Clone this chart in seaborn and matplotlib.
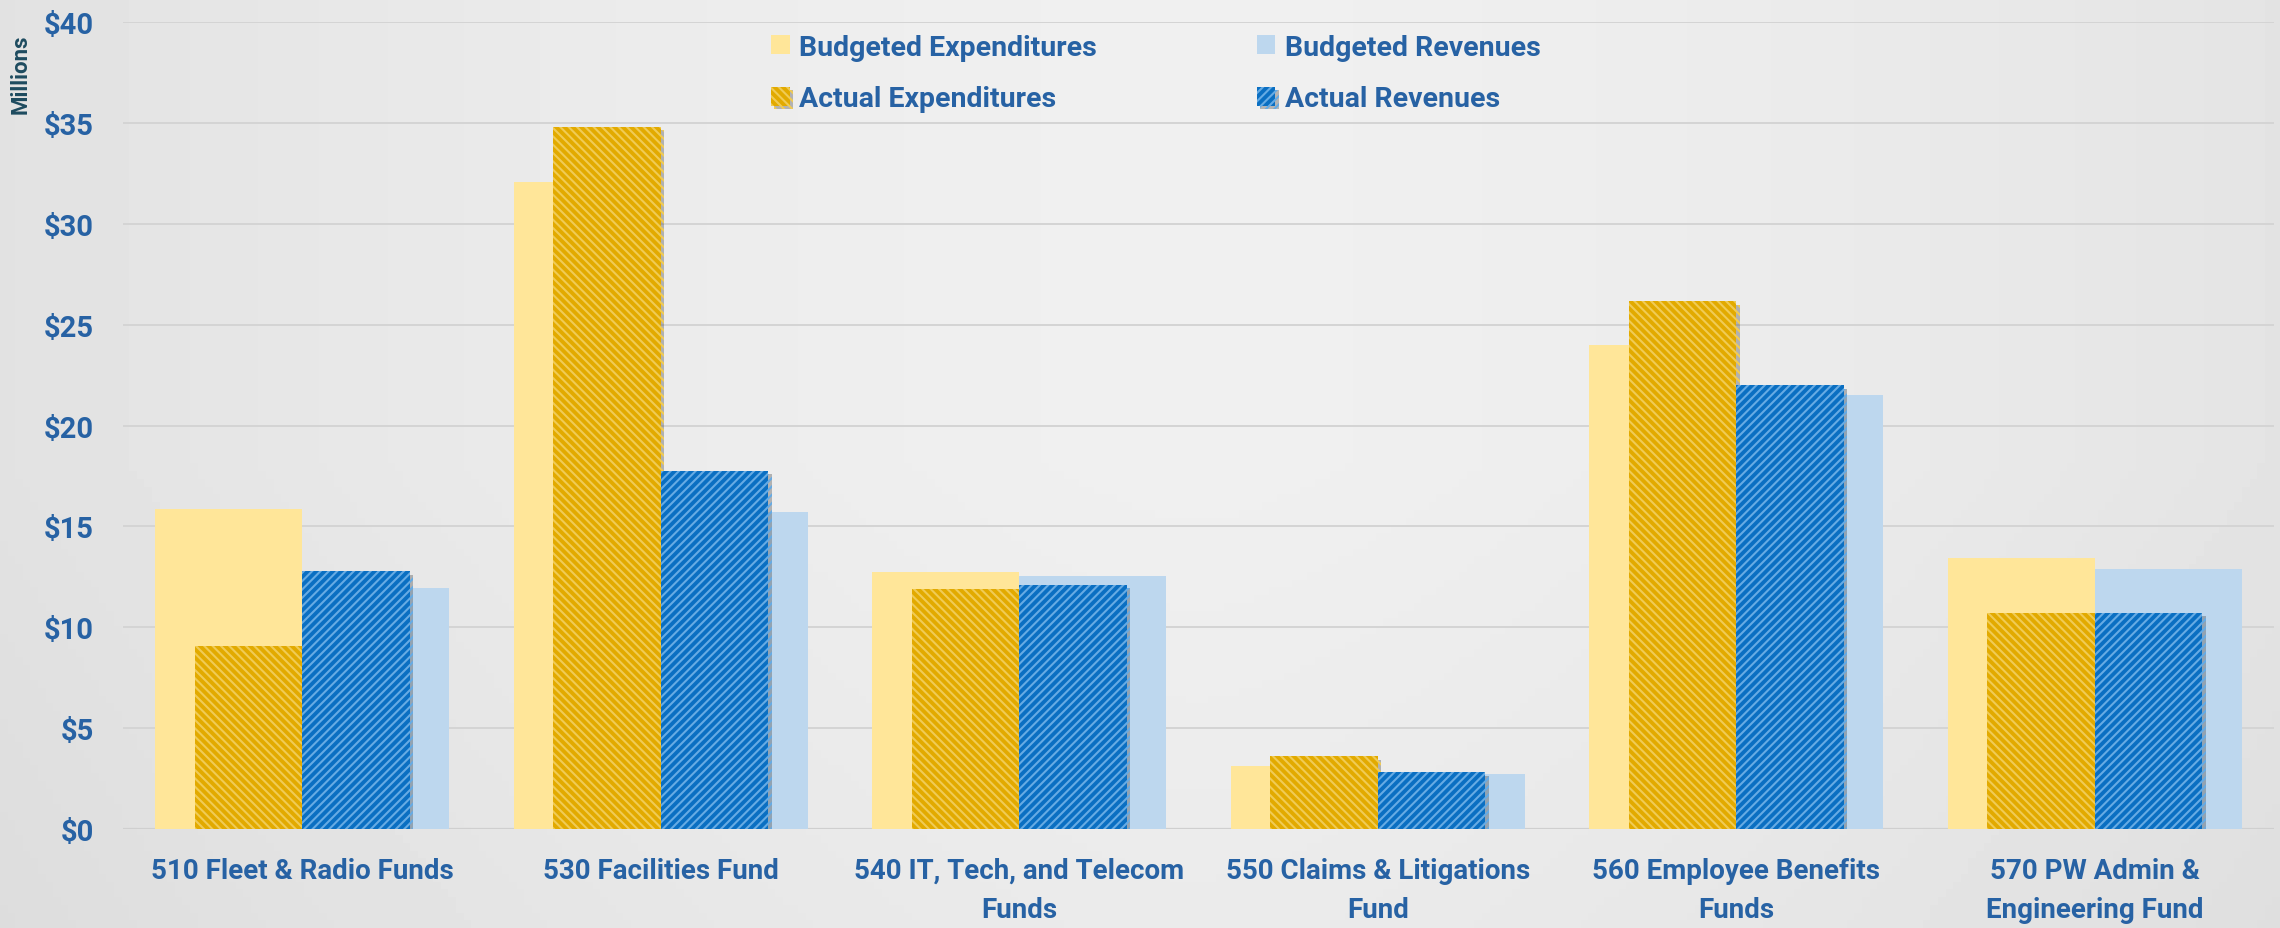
from __future__ import annotations

import matplotlib

matplotlib.use("Agg")
import matplotlib.pyplot as plt
import numpy as np
import pandas as pd
import seaborn as sns
from matplotlib import patheffects as pe

# --- data (millions of dollars) ---
FUNDS = [
    "510 Fleet & Radio Funds",
    "530 Facilities Fund",
    "540 IT, Tech, and Telecom\nFunds",
    "550 Claims & Litigations\nFund",
    "560 Employee Benefits\nFunds",
    "570 PW Admin &\nEngineering Fund",
]
BUDGETED_EXP = [15.85, 32.05, 12.75, 3.1, 24.0, 13.45]
ACTUAL_EXP = [9.05, 34.8, 11.9, 3.6, 26.15, 10.72]
ACTUAL_REV = [12.78, 17.75, 12.1, 2.8, 22.0, 10.72]
BUDGETED_REV = [11.95, 15.7, 12.55, 2.72, 21.52, 12.9]
Y_TICKS = [0, 5, 10, 15, 20, 25, 30, 35, 40]

LIGHT_YELLOW = "#FFE699"
LIGHT_BLUE = "#BDD7EE"
GOLD = "#E2AA00"
GOLD_STRIPE = "#F0CB55"
BLUE = "#0A6FC2"
BLUE_STRIPE = "#66ABE4"
TEXT_BLUE = "#2762A4"

sns.set_theme(style="white")
plt.rcParams["font.family"] = ["Roboto", "DejaVu Sans"]
plt.rcParams["hatch.linewidth"] = 1.5

fig = plt.figure(figsize=(22.8, 9.29), dpi=100)

# soft grey background gradient
bg = fig.add_axes([0, 0, 1, 1], zorder=-10)
gx = np.linspace(-1, 1, 300)
gy = np.linspace(-1, 1, 120)
xx, yy = np.meshgrid(gx, gy)
shade = 0.94 - 0.05 * (np.abs(xx - 0.05) ** 1.5) - 0.02 * np.clip(yy, 0, 1)
bg.imshow(shade, cmap="gray", vmin=0, vmax=1, aspect="auto", extent=[0, 1, 0, 1])
bg.set_axis_off()

ax = fig.add_axes([0.054, 0.1066, 0.9434, 0.8686])
ax.set_facecolor("none")

budget_df = pd.DataFrame(
    {
        "fund": FUNDS * 2,
        "value": BUDGETED_EXP + BUDGETED_REV,
        "kind": ["Budgeted Expenditures"] * len(FUNDS) + ["Budgeted Revenues"] * len(FUNDS),
    }
)
actual_df = pd.DataFrame(
    {
        "fund": FUNDS * 2,
        "value": ACTUAL_EXP + ACTUAL_REV,
        "kind": ["Actual Expenditures"] * len(FUNDS) + ["Actual Revenues"] * len(FUNDS),
    }
)

sns.barplot(
    data=budget_df, x="fund", y="value", hue="kind", dodge=True, width=0.82,
    palette=[LIGHT_YELLOW, LIGHT_BLUE], saturation=1, errorbar=None, legend=False,
    linewidth=0, zorder=2, ax=ax,
)
sns.barplot(
    data=actual_df, x="fund", y="value", hue="kind", dodge=True, width=0.60,
    palette=[GOLD, BLUE], saturation=1, errorbar=None, legend=False,
    linewidth=0, zorder=3, ax=ax,
)

cont_be, cont_br, cont_ae, cont_ar = ax.containers[:4]
sombra = [pe.SimplePatchShadow(offset=(2.5, -2.5), alpha=0.35, shadow_rgbFace="#444444"), pe.Normal()]
for bar in cont_ae:
    bar.set_hatch("\\\\\\\\")
    bar.set_edgecolor(GOLD_STRIPE)
    bar.set_linewidth(0)
    bar.set_path_effects(sombra)
for bar in cont_ar:
    bar.set_hatch("////")
    bar.set_edgecolor(BLUE_STRIPE)
    bar.set_linewidth(0)
    bar.set_path_effects(sombra)

ax.set_xlim(-0.5, len(FUNDS) - 0.5)
ax.set_ylim(0, 40)
ax.set_yticks(Y_TICKS)
ax.set_yticklabels([f"${v}" for v in Y_TICKS])
ax.yaxis.grid(True, color="#D4D4D4", linewidth=1.4, zorder=0)
ax.set_axisbelow(True)
ax.axhline(0, color="#CFCFCF", linewidth=1.6, zorder=1)
sns.despine(ax=ax, left=True, bottom=True)
ax.tick_params(axis="both", length=0)
ax.tick_params(axis="y", pad=21, labelsize=21, labelcolor=TEXT_BLUE)
ax.tick_params(axis="x", pad=20, labelsize=20, labelcolor=TEXT_BLUE)
for lbl in ax.get_yticklabels():
    lbl.set_fontweight("bold")
for lbl in ax.get_xticklabels():
    lbl.set_fontweight("bold")
    lbl.set_linespacing(1.6)
ax.set_xlabel("")
ax.set_ylabel("")

fig.text(0.0092, 0.92, "Millions", rotation=90, ha="center", va="center",
         fontsize=16, fontweight="bold", color="#1D4B5F")

handles = [cont_be, cont_ae, cont_br, cont_ar]
labels = ["Budgeted Expenditures", "Actual Expenditures", "Budgeted Revenues", "Actual Revenues"]
ax.legend(
    handles, labels, ncol=2, loc="upper center", bbox_to_anchor=(0.507, 0.99),
    bbox_transform=fig.transFigure, frameon=False, prop={"size": 20.5, "weight": "bold"},
    labelcolor=TEXT_BLUE, handlelength=0.65, handleheight=0.65, handletextpad=0.35,
    columnspacing=5.6, labelspacing=0.85,
)

fig.savefig("out.png", dpi=100)
